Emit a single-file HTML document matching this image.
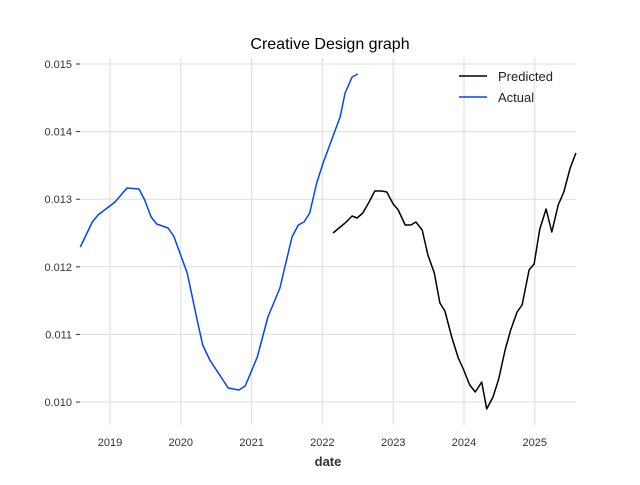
<!DOCTYPE html>
<html><head><meta charset="utf-8"><style>
body{margin:0;background:#fff}
svg text{font-family:"Liberation Sans","DejaVu Sans",sans-serif}
</style></head><body>
<svg id="chart" width="640" height="480" xmlns="http://www.w3.org/2000/svg">
<rect width="640" height="480" fill="#fff"/>
<text x="330" y="49" text-anchor="middle" font-size="16" fill="#000">Creative Design graph</text>
<g id="grid"></g><g id="ticks"></g><g id="series"></g>
<text x="328" y="466" text-anchor="middle" font-size="13" font-weight="bold" fill="#333">date</text>
<g>
<line x1="459" y1="76" x2="487" y2="76" stroke="#000" stroke-width="1.5"/>
<text x="498" y="81" font-size="13" fill="#222">Predicted</text>
<line x1="459" y1="97" x2="487" y2="97" stroke="#0343ff" stroke-width="1.5"/>
<text x="498" y="102" font-size="13" fill="#222">Actual</text>
</g>
</svg>
<script>
const xTicks=[2019,2020,2021,2022,2023,2024,2025];
const yTicks=[0.010,0.011,0.012,0.013,0.014,0.015];
const yTickLabels=["0.010","0.011","0.012","0.013","0.014","0.015"];
const actualDates=[2018.58,2018.75,2018.83,2019.07,2019.24,2019.41,2019.49,2019.58,2019.66,2019.82,2019.90,2020.09,2020.24,2020.31,2020.41,2020.67,2020.82,2020.91,2021.08,2021.23,2021.40,2021.57,2021.66,2021.74,2021.82,2021.92,2022.01,2022.25,2022.32,2022.42,2022.50];
const actualValues=[0.012293,0.012663,0.012766,0.012959,0.013166,0.013151,0.012988,0.012737,0.012633,0.012574,0.012456,0.011908,0.011169,0.010843,0.010621,0.010207,0.010178,0.010237,0.010666,0.011257,0.011686,0.012441,0.012618,0.012663,0.012796,0.013240,0.013536,0.014216,0.014571,0.014808,0.014852];
const predDates=[2022.15,2022.32,2022.42,2022.49,2022.57,2022.66,2022.74,2022.84,2022.91,2023.00,2023.07,2023.17,2023.25,2023.32,2023.41,2023.49,2023.58,2023.66,2023.73,2023.83,2023.92,2023.99,2024.08,2024.16,2024.25,2024.32,2024.41,2024.49,2024.58,2024.66,2024.75,2024.82,2024.92,2024.99,2025.07,2025.16,2025.24,2025.33,2025.41,2025.50,2025.58];
const predValues=[0.012500,0.012648,0.012751,0.012722,0.012796,0.012959,0.013121,0.013121,0.013107,0.012929,0.012840,0.012618,0.012618,0.012663,0.012544,0.012175,0.011908,0.011464,0.011346,0.010947,0.010651,0.010488,0.010251,0.010148,0.010296,0.009896,0.010074,0.010340,0.010769,0.011065,0.011331,0.011435,0.011953,0.012041,0.012559,0.012855,0.012515,0.012914,0.013107,0.013462,0.013683];
const NS="http://www.w3.org/2000/svg";
const L=80,R=576,T=58,B=425;
const xS=d=>110+(d-2019)*70.8;
const yS=v=>402-(v-0.010)*67600;
function mk(tag,attrs,parent){const e=document.createElementNS(NS,tag);for(const k in attrs)e.setAttribute(k,attrs[k]);parent.appendChild(e);return e;}
const grid=document.getElementById('grid'),ticks=document.getElementById('ticks'),series=document.getElementById('series');
xTicks.forEach(t=>{const x=xS(t);
 const g=mk('line',{x1:x,x2:x,y1:T,y2:B,stroke:'#dddddd','stroke-width':1},grid);
 
 
 const tx=mk('text',{x:x,y:446,'text-anchor':'middle','font-size':11,fill:'#333'},ticks);
 tx.textContent=t;
 
 
});
yTicks.forEach((t,i)=>{const y=yS(t);
 const g=mk('line',{x1:L,x2:R,y1:y,y2:y,stroke:'#dddddd','stroke-width':1},grid);
 
 
 mk('line',{x1:L-4,x2:L,y1:y,y2:y,stroke:'#333','stroke-width':1},ticks);
 const tx=mk('text',{x:L-8,y:y+4,'text-anchor':'end','font-size':11,fill:'#333'},ticks);
 tx.textContent=yTickLabels[i];
 
 
});
function line(d,v,color,name){
 const pts=d.map((x,i)=>xS(x).toFixed(1)+','+yS(v[i]).toFixed(1)).join(' ');
 const p=mk('polyline',{points:pts,fill:'none',stroke:color,'stroke-width':1.5,'stroke-linejoin':'round'},series);
 
 
}
line(actualDates,actualValues,'#0343ff','actual-line');
line(predDates,predValues,'#000000','predicted-line');
</script>
</body></html>
